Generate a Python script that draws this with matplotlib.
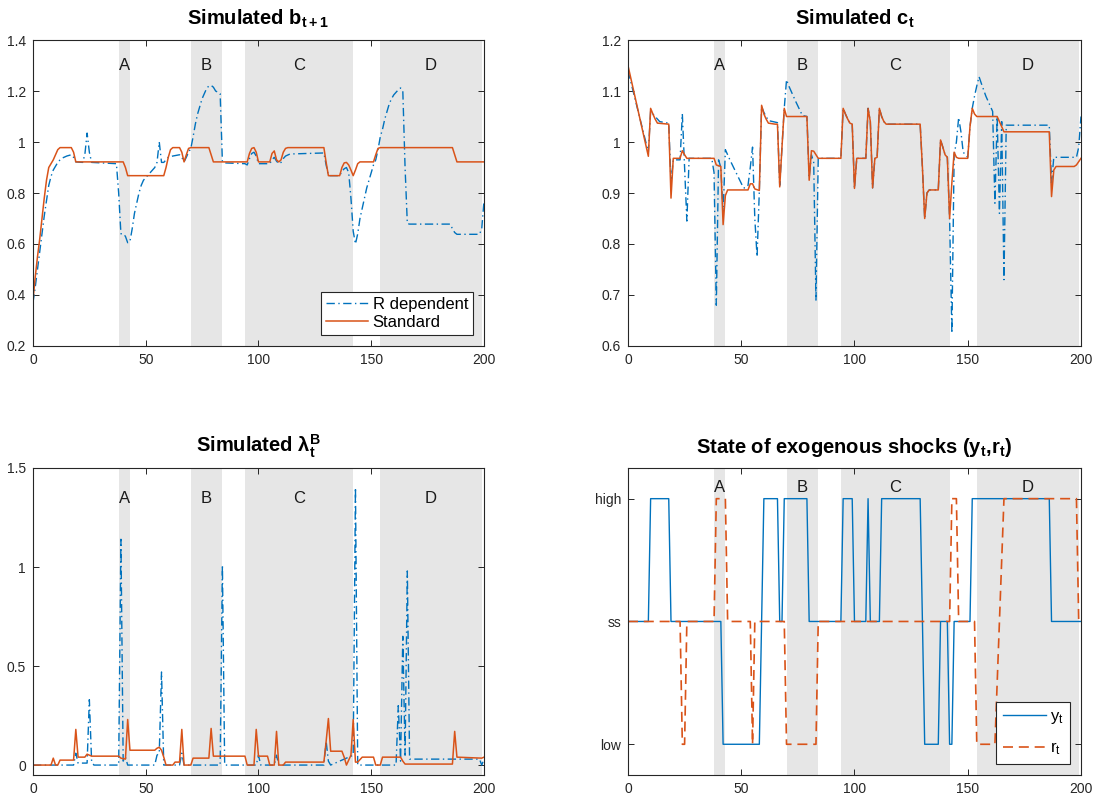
import numpy as np
import matplotlib
matplotlib.use("Agg")
import matplotlib.pyplot as plt
from matplotlib.ticker import FormatStrFormatter

plt.rcParams["font.family"] = ["Liberation Sans", "DejaVu Sans"]
plt.rcParams["mathtext.default"] = "regular"

azul = "#0072BD"
naranja = "#D95319"
gris = "#e6e6e6"
ejes = "#262626"

# regiones sombreadas
reg_ini = [38, 70, 94, 154]
reg_fin = [43, 84, 142, 199]
reg_nom = ["A", "B", "C", "D"]

# b_{t+1}, modelo estandar
b_std_t = [0, 1, 2, 3, 4, 5, 6, 7, 8, 9, 10, 11, 12, 17, 18, 19, 40, 41, 42, 58, 59, 60, 61, 62, 65, 66, 67,
           68, 69, 70, 78, 79, 80, 95, 96, 97, 98, 99, 100, 105, 106, 107, 108, 109, 110, 111, 112, 113, 129,
           130, 131, 136, 137, 138, 139, 140, 141, 142, 143, 144, 145, 151, 152, 153, 154, 186, 187, 188, 200]
b_std_v = [0.38, 0.47, 0.55, 0.62, 0.70, 0.78, 0.85, 0.90, 0.915, 0.93, 0.95, 0.97, 0.978, 0.978, 0.96, 0.922,
           0.922, 0.90, 0.868, 0.868, 0.90, 0.94, 0.97, 0.978, 0.978, 0.96, 0.922, 0.95, 0.975, 0.978, 0.978,
           0.95, 0.922, 0.922, 0.955, 0.975, 0.978, 0.96, 0.922, 0.922, 0.955, 0.965, 0.93, 0.922, 0.93, 0.96,
           0.975, 0.978, 0.978, 0.92, 0.868, 0.868, 0.90, 0.918, 0.92, 0.91, 0.89, 0.868, 0.89, 0.915, 0.922,
           0.922, 0.95, 0.975, 0.978, 0.978, 0.95, 0.922, 0.922]

# b_{t+1}, R dependiente
b_rd_t = [0, 1, 2, 3, 4, 5, 6, 7, 8, 9, 10, 11, 12, 13, 15, 17, 18, 19, 22, 23, 24, 25, 26, 37, 38, 39, 40, 41,
          42, 43, 44, 45, 46, 47, 48, 49, 50, 52, 54, 55, 56, 57, 58, 59, 60, 62, 65, 66, 67, 68, 69, 70, 71, 72,
          73, 74, 75, 76, 77, 78, 79, 80, 81, 82, 83, 84, 85, 94, 95, 96, 97, 98, 99, 100, 105, 106, 107, 108,
          109, 110, 111, 112, 114, 129, 130, 131, 136, 137, 138, 139, 140, 141, 142, 143, 144, 145, 146, 147,
          148, 149, 150, 151, 152, 153, 154, 155, 156, 157, 158, 159, 160, 161, 162, 163, 164, 165, 166, 167,
          185, 186, 187, 188, 198, 199, 200]
b_rd_v = [0.37, 0.43, 0.50, 0.57, 0.64, 0.71, 0.77, 0.83, 0.865, 0.89, 0.905, 0.92, 0.93, 0.937, 0.945, 0.95,
          0.94, 0.922, 0.92, 0.95, 1.035, 0.96, 0.92, 0.915, 0.80, 0.64, 0.64, 0.63, 0.605, 0.61, 0.66, 0.72,
          0.76, 0.80, 0.83, 0.85, 0.86, 0.88, 0.90, 0.92, 1.0, 0.92, 0.92, 0.93, 0.94, 0.945, 0.95, 0.94, 0.922,
          0.94, 0.96, 0.975, 1.02, 1.07, 1.11, 1.14, 1.17, 1.19, 1.21, 1.22, 1.222, 1.215, 1.20, 1.195, 1.19,
          0.922, 0.918, 0.915, 0.91, 0.935, 0.955, 0.96, 0.945, 0.915, 0.915, 0.93, 0.94, 0.925, 0.915, 0.92,
          0.935, 0.945, 0.953, 0.957, 0.91, 0.868, 0.868, 0.885, 0.895, 0.90, 0.88, 0.78, 0.65, 0.60, 0.64,
          0.70, 0.74, 0.78, 0.82, 0.85, 0.88, 0.91, 0.93, 0.97, 1.02, 1.05, 1.09, 1.12, 1.15, 1.17, 1.185,
          1.195, 1.205, 1.212, 1.20, 0.90, 0.68, 0.678, 0.678, 0.66, 0.645, 0.638, 0.638, 0.66, 0.77]

# c_t, modelo estandar
c_std_t = [0, 9, 10, 11, 12, 13, 18, 19, 20, 23, 24, 25, 26, 38, 39, 41, 42, 43, 44, 53, 54, 55, 56, 58, 59,
           60, 61, 62, 65, 66, 67, 68, 69, 70, 79, 80, 81, 82, 83, 84, 94, 95, 96, 97, 98, 99, 100, 101, 105,
           106, 107, 108, 109, 110, 111, 112, 113, 114, 129, 130, 131, 132, 133, 137, 138, 139, 140, 141, 142,
           143, 144, 145, 146, 150, 151, 152, 153, 154, 163, 164, 165, 166, 186, 187, 188, 189, 197, 198, 200]
c_std_v = [1.15, 0.972, 1.066, 1.055, 1.045, 1.037, 1.035, 0.89, 0.968, 0.968, 0.983, 0.975, 0.968, 0.968,
           0.955, 0.952, 0.838, 0.895, 0.906, 0.906, 0.918, 0.918, 0.908, 0.905, 1.072, 1.055, 1.045, 1.037,
           1.035, 1.035, 0.912, 0.99, 1.066, 1.05, 1.05, 0.925, 0.983, 0.982, 0.975, 0.968, 0.968, 1.066, 1.055,
           1.045, 1.037, 1.035, 0.909, 0.968, 0.968, 1.066, 1.04, 0.91, 0.968, 0.97, 1.066, 1.05, 1.04, 1.035,
           1.035, 0.95, 0.85, 0.90, 0.906, 0.906, 1.004, 0.99, 0.975, 0.97, 0.85, 0.92, 0.98, 0.97, 0.968,
           0.968, 1.03, 1.066, 1.055, 1.05, 1.05, 1.04, 1.03, 1.02, 1.02, 0.893, 0.945, 0.952, 0.952, 0.955,
           0.968]

# c_t, R dependiente
c_rd_t = [0, 9, 10, 11, 12, 14, 18, 19, 20, 23, 24, 25, 26, 27, 37, 38, 39, 40, 41, 42, 43, 44, 45, 51, 52,
          53, 54, 55, 56, 57, 58, 59, 60, 62, 66, 67, 68, 69, 70, 71, 72, 74, 77, 79, 80, 81, 82, 83, 84, 94,
          95, 96, 97, 98, 99, 100, 101, 105, 106, 107, 108, 109, 110, 111, 112, 113, 114, 129, 130, 131, 132,
          133, 137, 138, 139, 140, 141, 142, 143, 144, 145, 146, 147, 148, 150, 151, 152, 153, 154, 155, 156,
          158, 160, 161, 162, 163, 164, 165, 166, 167, 186, 187, 188, 198, 199, 200]
c_rd_v = [1.14, 0.98, 1.06, 1.055, 1.05, 1.04, 1.037, 0.92, 0.965, 0.965, 1.055, 0.95, 0.845, 0.968, 0.968,
          0.94, 0.68, 0.965, 0.95, 0.86, 0.985, 0.975, 0.965, 0.91, 0.91, 0.915, 0.95, 0.99, 0.85, 0.775, 0.905,
          1.07, 1.058, 1.042, 1.038, 0.915, 0.99, 1.066, 1.122, 1.11, 1.10, 1.08, 1.052, 1.05, 0.93, 0.975,
          0.96, 0.69, 0.968, 0.968, 1.066, 1.055, 1.045, 1.037, 1.035, 0.909, 0.968, 0.968, 1.066, 1.04, 0.91,
          0.968, 0.97, 1.066, 1.05, 1.04, 1.035, 1.035, 0.95, 0.85, 0.90, 0.906, 0.906, 1.004, 0.99, 0.975,
          0.97, 0.85, 0.625, 0.975, 1.0, 1.048, 1.02, 0.98, 0.97, 1.03, 1.066, 1.09, 1.11, 1.128, 1.115, 1.09,
          1.07, 1.06, 0.88, 1.05, 0.86, 1.04, 0.73, 1.033, 1.033, 0.92, 0.97, 0.97, 0.99, 1.05]

# lambda^B_t, modelo estandar
l_std_t = [0, 8, 9, 10, 11, 12, 18, 19, 20, 23, 24, 25, 26, 38, 39, 41, 42, 43, 54, 55, 56, 57, 58, 59, 62,
           63, 65, 66, 67, 70, 71, 78, 79, 80, 94, 95, 98, 99, 100, 104, 105, 107, 108, 109, 111, 112, 129, 130,
           131, 132, 137, 138, 139, 141, 142, 143, 144, 146, 151, 152, 154, 155, 163, 164, 165, 186, 187, 188,
           199, 200]
l_std_v = [0, 0, 0.035, 0, 0, 0.025, 0.025, 0.18, 0.04, 0.04, 0.055, 0.05, 0.045, 0.045, 0.035, 0.03, 0.23,
           0.075, 0.075, 0.085, 0.09, 0.075, 0.04, 0, 0, 0.015, 0.015, 0.18, 0, 0, 0.035, 0.035, 0.185, 0.045,
           0.045, 0, 0, 0.18, 0.045, 0.045, 0, 0, 0.17, 0, 0, 0.015, 0.015, 0.12, 0.235, 0.07, 0.07, 0.04, 0,
           0.05, 0.23, 0.015, 0.015, 0.04, 0.04, 0, 0, 0.04, 0.04, 0.02, 0.005, 0.005, 0.17, 0.04, 0.035,
           0.04]

# lambda^B_t, R dependiente
l_rd_t = [0, 18, 19, 20, 24, 25, 26, 27, 38, 39, 40, 41, 42, 54, 55, 56, 57, 58, 65, 66, 67, 83, 84, 85, 99,
          100, 101, 107, 108, 109, 129, 130, 131, 132, 142, 143, 144, 161, 162, 163, 164, 165, 166, 167, 198,
          199, 200]
l_rd_v = [0, 0, 0.06, 0.01, 0.01, 0.33, 0.02, 0, 0, 1.14, 0.02, 0.04, 0, 0, 0.05, 0.06, 0.47, 0, 0, 0.06, 0,
          0, 1.01, 0, 0, 0.05, 0, 0, 0.05, 0, 0, 0.12, 0.02, 0, 0.05, 1.40, 0, 0, 0.30, 0.02, 0.65, 0.05, 0.98,
          0.03, 0.03, 0, 0.03]

# estados de los choques: -1 low, 0 ss, 1 high
y_t = [0, 9, 10, 18, 19, 41, 42, 58, 59, 60, 66, 67, 68, 69, 79, 80, 94, 95, 99, 100, 105, 106, 107, 111, 112,
       129, 130, 131, 137, 138, 141, 142, 143, 144, 151, 152, 186, 187, 200]
y_v = [0, 0, 1, 1, 0, 0, -1, -1, 0, 1, 1, 0, 0, 1, 1, 0, 0, 1, 1, 0, 0, 1, 0, 0, 1, 1, 0, -1, -1, 0, 0, -1, -1,
       0, 0, 1, 1, 0, 0]
r_t = [0, 23, 24, 25, 26, 38, 39, 43, 44, 54, 55, 56, 69, 70, 83, 84, 142, 143, 145, 146, 153, 154, 162, 164,
       166, 198, 199, 200]
r_v = [0, 0, -1, -1, 0, 0, 1, 1, 0, 0, -1, 0, 0, -1, -1, 0, 0, 1, 1, 0, 0, -1, -1, 0, 1, 1, 0, 0]


def sombrear(ax, ytxt):
    for ini, fin, nom in zip(reg_ini, reg_fin, reg_nom):
        ax.axvspan(ini, fin, color=gris, lw=0, zorder=0)
        ax.text((ini + fin) / 2, ytxt, nom, transform=ax.get_xaxis_transform(),
                ha="center", va="center", fontsize=12, color="#1a1a1a")


def formato(ax, titulo):
    ax.set_xlim(0, 200)
    ax.set_xticks([0, 50, 100, 150, 200])
    ax.tick_params(direction="in", top=True, right=True, length=4, width=0.7,
                   labelsize=10, colors=ejes, pad=5)
    for s in ax.spines.values():
        s.set_color(ejes)
        s.set_linewidth(0.8)
    ax.set_title(titulo, fontsize=14.5, fontweight="bold", pad=11)


fig = plt.figure(figsize=(10.99, 8.02), dpi=100)
ax1 = fig.add_axes([0.0300, 0.5686, 0.4104, 0.3815])
ax2 = fig.add_axes([0.5714, 0.5686, 0.4122, 0.3815])
ax3 = fig.add_axes([0.0300, 0.0337, 0.4104, 0.3828])
ax4 = fig.add_axes([0.5714, 0.0337, 0.4122, 0.3828])

# b_{t+1}
sombrear(ax1, 0.917)
ax1.plot(b_rd_t, b_rd_v, color=azul, lw=1.0, dashes=(6, 2.5, 1, 2.5), label="R dependent")
ax1.plot(b_std_t, b_std_v, "-", color=naranja, lw=1.1, label="Standard")
ax1.set_ylim(0.2, 1.4)
ax1.set_yticks(np.arange(0.2, 1.41, 0.2))
ax1.yaxis.set_major_formatter(FormatStrFormatter("%g"))
formato(ax1, "Simulated $b_{t+1}$")
leg = ax1.legend(loc="lower right", fontsize=12, handlelength=2.5, handletextpad=0.3, borderpad=0.3,
                 labelspacing=0.2, borderaxespad=0.65, fancybox=False, framealpha=1, edgecolor=ejes)
leg.get_frame().set_linewidth(0.8)

# c_t
sombrear(ax2, 0.917)
ax2.plot(c_rd_t, c_rd_v, color=azul, lw=1.0, dashes=(6, 2.5, 1, 2.5))
ax2.plot(c_std_t, c_std_v, "-", color=naranja, lw=1.1)
ax2.set_ylim(0.6, 1.2)
ax2.set_yticks(np.arange(0.6, 1.21, 0.1))
ax2.yaxis.set_major_formatter(FormatStrFormatter("%g"))
formato(ax2, "Simulated $c_t$")

# lambda
sombrear(ax3, 0.90)
ax3.plot(l_rd_t, l_rd_v, color=azul, lw=1.0, dashes=(6, 2.5, 1, 2.5))
ax3.plot(l_std_t, l_std_v, "-", color=naranja, lw=1.1)
ax3.set_ylim(-0.05, 1.5)
ax3.set_yticks([0, 0.5, 1, 1.5])
ax3.yaxis.set_major_formatter(FormatStrFormatter("%g"))
formato(ax3, "Simulated $\\lambda_t^B$")

# choques
sombrear(ax4, 0.937)
ax4.plot(y_t, y_v, "-", color=azul, lw=1.0, label="$y_t$")
ax4.plot(r_t, r_v, color=naranja, lw=1.2, dashes=(6, 3.5), label="$r_t$")
ax4.set_ylim(-1.25, 1.25)
ax4.set_yticks([-1, 0, 1])
ax4.set_yticklabels(["low", "ss", "high"])
formato(ax4, "State of exogenous shocks ($y_t$,$r_t$)")
leg2 = ax4.legend(loc="lower right", fontsize=12, handlelength=2.6, handletextpad=0.2, borderpad=0.4,
                  labelspacing=0.9, borderaxespad=0.65, fancybox=False, framealpha=1, edgecolor=ejes)
leg2.get_frame().set_linewidth(0.8)

fig.savefig("out.png", dpi=100)
